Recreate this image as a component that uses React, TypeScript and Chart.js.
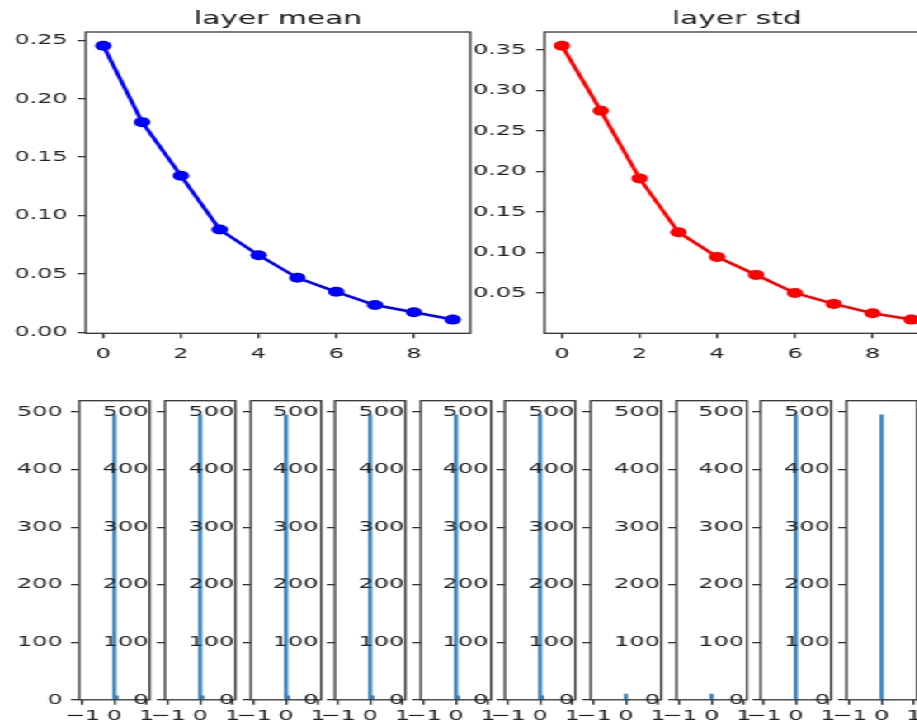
import React, { useEffect, useRef } from "react";
import { Chart, registerables } from "chart.js";

Chart.register(...registerables);

// ---------------- data ----------------
const layerIndex = [0, 1, 2, 3, 4, 5, 6, 7, 8, 9];
const layerMean = [0.2455, 0.18, 0.134, 0.088, 0.066, 0.0466, 0.0346, 0.0233, 0.0171, 0.0108];
const layerStd = [0.3553, 0.275, 0.1915, 0.125, 0.0945, 0.0724, 0.0501, 0.0366, 0.025, 0.0172];
const topXTicks = [0, 2, 4, 6, 8];
const meanYTicks = [0, 0.05, 0.1, 0.15, 0.2, 0.25];
const stdYTicks = [0.05, 0.1, 0.15, 0.2, 0.25, 0.3, 0.35];

const histBinCenters = [0, 0.0667];
const histZeroBinCounts = [495, 495, 495, 495, 495, 495, 10, 10, 495, 495];
const histNextBinCounts = [7, 7, 7, 7, 7, 7, 0, 0, 0, 0];
const histXTicks = [-1, 0, 1];
const histYTicks = [0, 100, 200, 300, 400, 500];

// ---------------- layout / style ----------------
const S = 1.65; // horizontal stretch of the whole figure
const FONT = "DejaVu Sans";
const PAD_TOP = 10;
const X_H = 32;
const TITLE_H = 22;

const framePlugin = {
  id: "frame",
  afterDraw(chart: any) {
    const { ctx, chartArea: a } = chart;
    ctx.save();
    ctx.strokeStyle = "#333";
    ctx.lineWidth = 1.3;
    ctx.strokeRect(a.left, a.top, a.right - a.left, a.bottom - a.top);
    ctx.restore();
  },
};

function axis(ticksArr: number[], fmt: (v: number) => string, min: number, max: number, size: number, horizontal: boolean, pad: number) {
  return {
    type: "linear",
    min,
    max,
    offset: false,
    border: { display: false },
    grid: {
      drawOnChartArea: false,
      drawTicks: true,
      tickLength: 5,
      color: "#333",
      lineWidth: 1.3,
      offset: false,
    },
    ticks: {
      color: "#222",
      font: { family: FONT, size: 14.5 },
      padding: pad,
      autoSkip: false,
      maxRotation: 0,
      minRotation: 0,
      callback: (v: any) => fmt(Number(v)),
    },
    afterBuildTicks: (scale: any) => {
      scale.ticks = ticksArr.map((v) => ({ value: v }));
    },
    afterFit: (scale: any) => {
      if (horizontal) scale.height = size;
      else scale.width = size;
    },
  };
}

const fmtInt = (v: number) => (v < 0 ? "\u2212" + Math.abs(v) : String(v));
const fmt2 = (v: number) => v.toFixed(2);

function marginRange(vals: number[]) {
  const lo = Math.min(...vals);
  const hi = Math.max(...vals);
  const m = (hi - lo) * 0.05;
  return [lo - m, hi + m];
}

function Panel({ x, y, w, h, yW, titleH, config }: any) {
  const ref = useRef<HTMLCanvasElement>(null);
  const cw = Math.ceil(yW + w + 8);
  const ch = Math.ceil(PAD_TOP + titleH + h + X_H);
  const padRight = cw - yW - w;
  const padBottom = ch - (PAD_TOP + titleH + h + X_H);
  useEffect(() => {
    const cfg = config();
    cfg.options.layout = { padding: { top: PAD_TOP, right: padRight, bottom: padBottom, left: 0 } };
    const chart = new Chart(ref.current as HTMLCanvasElement, cfg);
    return () => chart.destroy();
  }, []);
  return (
    <canvas
      ref={ref}
      width={cw}
      height={ch}
      style={{ position: "absolute", left: x - yW, top: y - PAD_TOP - titleH, width: cw, height: ch }}
    />
  );
}

function lineConfig(title: string, values: number[], color: string, yTicks: number[], yW: number) {
  return () => {
    const [ymin, ymax] = marginRange(values);
    return {
      type: "line",
      data: {
        datasets: [
          {
            data: layerIndex.map((i, k) => ({ x: i, y: values[k] })),
            borderColor: color,
            backgroundColor: color,
            pointBackgroundColor: color,
            pointBorderColor: color,
            borderWidth: 2.6,
            pointRadius: 5,
            pointBorderWidth: 0,
            tension: 0,
          },
        ],
      },
      options: {
        animation: false,
        responsive: false,
        events: [],
        scales: {
          x: axis(topXTicks, fmtInt, -0.45, 9.45, X_H, true, 7),
          y: axis(yTicks, fmt2, ymin, ymax, yW, false, 6),
        },
        plugins: {
          legend: { display: false },
          tooltip: { enabled: false },
          title: {
            display: true,
            text: title,
            fullSize: false,
            color: "#1a1a1a",
            font: { family: FONT, size: 18, weight: "normal", lineHeight: 1 },
            padding: { top: 0.7, bottom: 3.3 },
          },
        },
      },
      plugins: [framePlugin],
    };
  };
}

function histConfig(i: number, yW: number) {
  return () => {
    const yMax = Math.max(...histZeroBinCounts, ...histNextBinCounts) * 1.05;
    return {
      type: "bar",
      data: {
        datasets: [
          {
            data: histBinCenters.map((c, j) => ({ x: c, y: j === 0 ? histZeroBinCounts[i] : histNextBinCounts[i] })),
            backgroundColor: "#2f80bd",
            borderWidth: 0,
            barThickness: 1.7,
          },
        ],
      },
      options: {
        animation: false,
        responsive: false,
        events: [],
        scales: {
          x: axis(histXTicks, fmtInt, -1.1, 1.1, X_H, true, 3),
          y: axis(histYTicks, fmtInt, 0, yMax, yW, false, 5),
        },
        plugins: {
          legend: { display: false },
          tooltip: { enabled: false },
          title: { display: false },
        },
      },
      plugins: [framePlugin],
    };
  };
}

export default function App() {
  const topW = 233;
  const topH = 301.3;
  const botTop = 396.5;
  const botH = 302.8;
  const botW = 42.7;
  return (
    <div style={{ position: "absolute", left: 0, top: 0, width: 917, height: 724, overflow: "hidden", background: "#fff" }}>
      <div
        style={{
          position: "absolute",
          left: 0,
          top: 0,
          width: 917 / S,
          height: 724,
          transform: `scaleX(${S})`,
          transformOrigin: "0 0",
        }}
      >
        <Panel x={52.42} y={32} w={topW} h={topH} yW={50} titleH={TITLE_H}
          config={lineConfig("layer mean", layerMean, "#0000ff", meanYTicks, 50)} />
        <Panel x={329.9} y={32} w={topW} h={topH} yW={50} titleH={TITLE_H}
          config={lineConfig("layer std", layerStd, "#ff0000", stdYTicks, 50)} />
        {histZeroBinCounts.map((_, i) => (
          <Panel key={i} x={48.48 + 51.58 * i} y={botTop} w={botW} h={botH} yW={40} titleH={0}
            config={histConfig(i, 40)} />
        ))}
      </div>
    </div>
  );
}
